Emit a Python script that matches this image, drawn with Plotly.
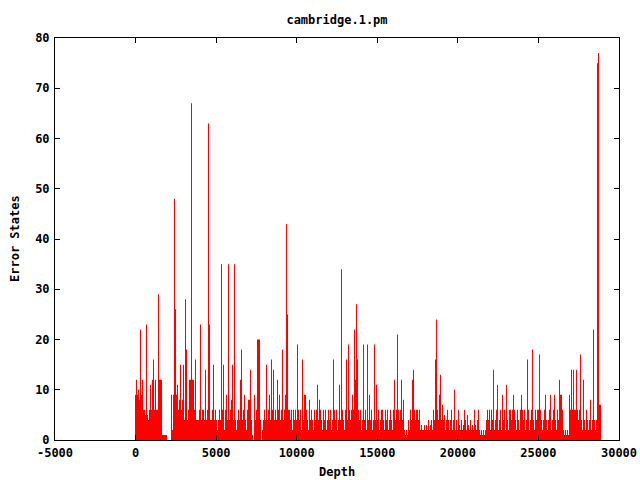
import plotly.graph_objects as go

# ---- data (one value per depth bin) ----
TITLE = "cambridge.1.pm"
X_LABEL = "Depth"
Y_LABEL = "Error States"
DEPTH_START = -35.5      # left edge of first depth bin
DEPTH_STEP = 62.06       # depth bin width

error_states = [
    # 135-154
    9, 12, 9, 10, 8, 22, 9, 12, 6, 6, 5, 23, 5, 4, 6, 11, 6, 12, 16, 6,
    # 155-174
    12, 6, 6, 29, 12, 12, 12, 1, 1, 1, 1, 1, 0, 0, 0, 0, 9, 2, 9, 48,
    # 175-194
    26, 9, 11, 6, 8, 15, 6, 8, 15, 4, 28, 18, 4, 6, 12, 12, 67, 12, 12, 6,
    # 195-214
    16, 4, 4, 4, 6, 23, 4, 6, 6, 4, 14, 4, 6, 63, 23, 4, 4, 6, 15, 4,
    # 215-234
    6, 4, 2, 4, 6, 4, 35, 6, 15, 2, 6, 9, 4, 35, 4, 6, 8, 15, 4, 35,
    # 235-254
    4, 2, 4, 6, 4, 12, 18, 4, 6, 9, 4, 2, 6, 8, 8, 14, 4, 1, 0, 9,
    # 255-274
    4, 6, 20, 20, 20, 4, 0, 2, 4, 6, 4, 15, 4, 6, 9, 4, 16, 6, 14, 4,
    # 275-294
    6, 4, 12, 6, 9, 4, 6, 18, 4, 6, 9, 43, 25, 6, 6, 4, 6, 2, 6, 4,
    # 295-314
    6, 4, 19, 6, 4, 6, 2, 16, 4, 9, 9, 6, 4, 2, 8, 4, 6, 4, 2, 6,
    # 315-334
    4, 6, 11, 4, 8, 6, 4, 2, 6, 4, 6, 2, 4, 6, 4, 6, 2, 4, 16, 6,
    # 335-354
    4, 6, 2, 4, 11, 4, 34, 6, 4, 2, 6, 16, 4, 19, 6, 4, 6, 9, 6, 22,
    # 355-374
    12, 27, 16, 6, 4, 6, 2, 4, 19, 4, 6, 2, 19, 4, 9, 4, 6, 2, 4, 19,
    # 375-394
    4, 11, 4, 6, 2, 4, 6, 6, 4, 2, 6, 4, 6, 2, 4, 6, 4, 2, 6, 12,
    # 395-414
    4, 6, 21, 6, 4, 6, 12, 4, 8, 2, 1, 2, 1, 4, 2, 6, 4, 12, 14, 6,
    # 415-434
    4, 6, 6, 4, 6, 2, 3, 2, 2, 3, 2, 3, 2, 4, 2, 3, 4, 2, 6, 4,
    # 435-454
    16, 24, 6, 4, 9, 13, 4, 7, 4, 5, 2, 4, 6, 4, 2, 4, 6, 2, 4, 10,
    # 455-474
    2, 4, 2, 6, 3, 2, 4, 2, 3, 6, 4, 2, 5, 3, 2, 4, 2, 3, 2, 6,
    # 475-494
    3, 2, 4, 6, 2, 1, 2, 1, 2, 1, 2, 4, 6, 4, 6, 2, 6, 4, 14, 2,
    # 495-514
    4, 6, 11, 2, 4, 6, 2, 9, 4, 6, 2, 11, 4, 2, 6, 6, 4, 6, 9, 6,
    # 515-534
    4, 2, 6, 4, 2, 6, 9, 6, 4, 6, 2, 4, 16, 6, 2, 4, 6, 18, 4, 2,
    # 535-554
    6, 4, 6, 6, 17, 6, 4, 2, 4, 6, 9, 4, 2, 4, 6, 9, 2, 4, 6, 9,
    # 555-574
    4, 2, 6, 4, 12, 9, 9, 6, 2, 1, 2, 1, 2, 1, 9, 6, 14, 6, 14, 6,
    # 575-594
    6, 14, 6, 4, 6, 17, 4, 2, 12, 4, 2, 6, 4, 2, 4, 8, 2, 4, 22, 4,
    # 595-600
    2, 4, 75, 77, 7, 7,
]

x_ticks = [-5000, 0, 5000, 10000, 15000, 20000, 25000, 30000]
x_tick_labels = ["-5000", "0", "5000", "10000", "15000", "20000", "25000", "30000"]
y_ticks = [0, 10, 20, 30, 40, 50, 60, 70, 80]

# bin edges for a stepped "impulse" rendering
depth_edges = [DEPTH_START + i * DEPTH_STEP for i in range(len(error_states) + 1)]
step_values = error_states + [error_states[-1]]

FONT = dict(family="DejaVu Sans Mono", size=12, color="black", weight="bold")

fig = go.Figure()
fig.add_trace(go.Scatter(
    x=depth_edges, y=step_values,
    mode="lines", line=dict(shape="hv", width=0, color="#ff0000"),
    fill="tozeroy", fillcolor="#ff0000",
    showlegend=False, hoverinfo="skip",
))

axis_common = dict(
    showline=True, linecolor="black", linewidth=1, mirror="allticks",
    ticks="inside", ticklen=5, tickcolor="black", tickwidth=1,
    showgrid=False, zeroline=False, tickfont=FONT, automargin=False,
)

fig.update_layout(
    width=640, height=480,
    margin=dict(l=55, r=21, t=38, b=40, autoexpand=False),
    paper_bgcolor="white", plot_bgcolor="white",
    font=FONT,
    title=dict(text=TITLE, x=0.5, xref="paper", xanchor="center",
               y=1 - 20 / 480, yref="container", yanchor="middle", font=FONT),
    xaxis=dict(range=[-5000, 30000], tickvals=x_ticks, ticktext=x_tick_labels,
               ticklabelstandoff=2, **axis_common),
    yaxis=dict(range=[0, 80], tickvals=y_ticks, ticklabelstandoff=2, **axis_common),
    annotations=[
        dict(text=X_LABEL, x=0.5, xref="paper", y=-32 / 402, yref="paper",
             xanchor="center", yanchor="middle", showarrow=False, font=FONT),
        dict(text=Y_LABEL, x=-40 / 564, xref="paper", y=0.5, yref="paper",
             xanchor="center", yanchor="middle", textangle=-90,
             showarrow=False, font=FONT),
    ],
)

fig.write_html("out.html",
               config={"displayModeBar": False},
               post_script="document.body.style.margin='0';document.body.style.padding='0';")
